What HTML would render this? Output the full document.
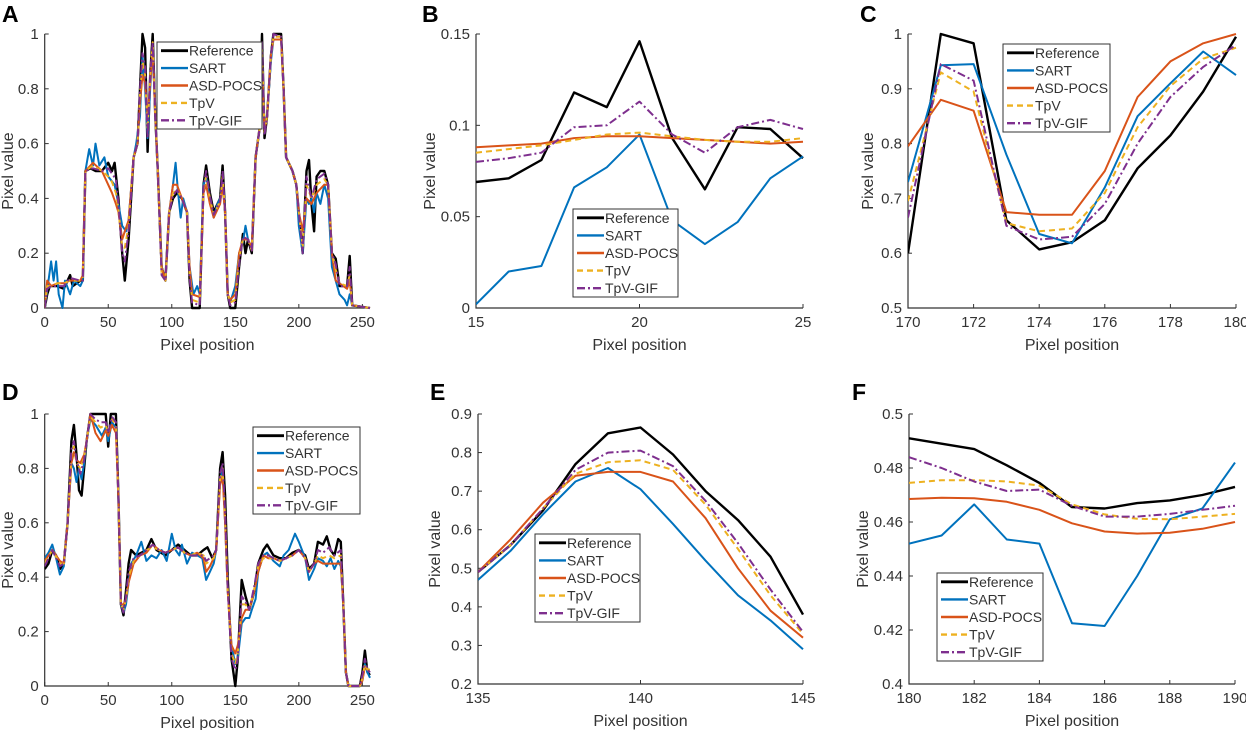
<!DOCTYPE html>
<html><head><meta charset="utf-8"><style>
html,body{margin:0;padding:0;background:#fff;}
svg{display:block;font-family:"Liberation Sans",Arial,sans-serif;}
</style></head><body>
<svg id="fig" width="1246" height="730" viewBox="0 0 1246 730" xmlns="http://www.w3.org/2000/svg"></svg>
<script>
const seriesNames = ["Reference","SART","ASD-POCS","TpV","TpV-GIF"];
// Panel A
const refA = [[0,0],[2,.05],[4,.08],[10,.08],[15,.07],[20,.12],[22,.08],[28,.1],[30,.1],[32,.5],[36,.51],[40,.5],[45,.5],[50,.53],[53,.5],[55,.53],[58,.4],[61,.2],[63,.1],[66,.25],[70,.55],[73,.6],[75,.8],[77,1],[79,.95],[81,.57],[83,.85],[85,1],[87,.7],[89,.5],[92,.15],[95,.1],[98,.35],[101,.4],[104,.42],[108,.4],[112,.35],[114,.1],[116,0],[122,0],[125,.45],[127,.52],[130,.42],[133,.35],[136,.38],[138,.4],[140,.52],[142,.35],[144,.05],[146,0],[150,0],[153,.15],[156,.27],[158,.2],[160,.25],[163,.2],[166,.55],[169,.65],[171,1],[173,.62],[175,.7],[178,.92],[180,1],[186,1],[188,.8],[190,.55],[195,.5],[198,.45],[200,.35],[203,.2],[206,.5],[208,.54],[210,.38],[212,.28],[214,.48],[217,.5],[220,.5],[223,.45],[226,.2],[229,.18],[232,.08],[236,.08],[238,.08],[240,.19],[242,.01],[256,0]];
const sartA = [[0,0],[3,.1],[5,.17],[7,.1],[9,.17],[11,.05],[14,0],[16,.1],[20,.05],[23,.1],[28,.08],[30,.1],[32,.5],[35,.58],[38,.52],[40,.6],[43,.52],[47,.55],[50,.48],[55,.45],[58,.38],[61,.3],[64,.28],[66,.32],[70,.55],[72,.6],[75,.7],[77,.92],[79,.8],[81,.62],[83,.8],[85,.95],[87,.7],[89,.5],[92,.15],[95,.1],[98,.35],[101,.45],[103,.53],[105,.42],[107,.33],[109,.4],[112,.35],[114,.15],[117,.05],[120,.08],[122,.05],[125,.45],[127,.48],[130,.4],[133,.33],[136,.38],[138,.4],[140,.45],[142,.35],[144,.05],[146,.02],[150,.08],[153,.2],[156,.24],[158,.3],[160,.25],[163,.22],[166,.55],[169,.65],[171,.95],[173,.65],[175,.7],[178,.9],[180,.98],[186,.98],[188,.8],[190,.55],[195,.5],[198,.45],[200,.3],[203,.2],[206,.4],[208,.38],[210,.4],[212,.35],[214,.42],[217,.38],[220,.45],[223,.4],[226,.15],[229,.1],[232,.05],[236,.03],[238,.01],[240,.05],[242,.01],[256,0]];
const asdA = [[0,0],[2,.1],[5,.08],[10,.09],[15,.09],[20,.1],[28,.1],[30,.12],[32,.5],[38,.53],[45,.5],[50,.45],[53,.42],[56,.38],[58,.35],[61,.25],[63,.28],[66,.32],[70,.55],[73,.6],[75,.75],[77,.85],[79,.82],[81,.7],[83,.82],[85,.95],[87,.7],[89,.5],[92,.15],[95,.1],[98,.35],[101,.45],[104,.45],[108,.4],[112,.35],[114,.15],[116,.05],[122,.04],[125,.42],[127,.45],[130,.38],[133,.33],[136,.36],[138,.38],[140,.45],[142,.35],[144,.05],[146,.03],[150,.05],[153,.2],[156,.25],[160,.25],[163,.22],[166,.55],[169,.65],[171,.9],[173,.65],[175,.7],[178,.92],[180,.98],[186,.98],[188,.8],[190,.55],[195,.5],[198,.45],[200,.35],[203,.28],[206,.4],[210,.38],[214,.42],[220,.45],[223,.45],[226,.2],[229,.1],[232,.09],[238,.07],[240,.1],[242,.01],[256,0]];
const tpvA = [[0,0],[2,.08],[5,.08],[10,.09],[15,.09],[20,.1],[28,.1],[30,.11],[32,.5],[38,.52],[45,.5],[50,.48],[53,.46],[56,.42],[58,.36],[61,.22],[63,.22],[66,.3],[70,.55],[73,.6],[75,.78],[77,.9],[79,.85],[81,.65],[83,.85],[85,.97],[87,.7],[89,.5],[92,.12],[95,.1],[98,.35],[101,.42],[104,.43],[108,.4],[112,.35],[114,.12],[116,.03],[122,.02],[125,.43],[127,.48],[130,.4],[133,.34],[136,.37],[138,.39],[140,.48],[142,.35],[144,.05],[146,.02],[150,.03],[153,.18],[156,.25],[160,.25],[163,.21],[166,.55],[169,.65],[171,.95],[173,.64],[175,.7],[178,.92],[180,.99],[186,.99],[188,.8],[190,.55],[195,.5],[198,.45],[200,.35],[203,.22],[206,.45],[210,.4],[214,.45],[220,.47],[223,.45],[226,.2],[229,.14],[232,.09],[238,.08],[240,.12],[242,.01],[256,0]];
const gifA = [[0,0],[2,.07],[5,.08],[10,.08],[15,.08],[20,.11],[28,.1],[30,.1],[32,.5],[38,.51],[45,.5],[50,.51],[53,.49],[56,.47],[58,.38],[61,.2],[63,.17],[66,.28],[70,.55],[73,.6],[75,.8],[77,.93],[79,.88],[81,.62],[83,.85],[85,.97],[87,.7],[89,.5],[92,.12],[95,.1],[98,.35],[101,.41],[104,.43],[108,.4],[112,.35],[114,.11],[116,.02],[122,.01],[125,.44],[127,.5],[130,.41],[133,.34],[136,.37],[138,.39],[140,.5],[142,.35],[144,.05],[146,.01],[150,.02],[153,.16],[156,.26],[160,.25],[163,.21],[166,.55],[169,.65],[171,.97],[173,.63],[175,.7],[178,.92],[180,1],[186,.99],[188,.8],[190,.55],[195,.5],[198,.45],[200,.35],[203,.2],[206,.48],[210,.4],[214,.47],[220,.49],[223,.45],[226,.2],[229,.16],[232,.08],[238,.08],[240,.15],[242,.01],[256,0]];
// Panel B
const xB = [15,16,17,18,19,20,21,22,23,24,25];
const refB = [.069,.071,.081,.118,.110,.146,.093,.065,.099,.098,.082];
const sartB = [.002,.020,.023,.066,.077,.095,.048,.035,.047,.071,.083];
const asdB = [.088,.089,.090,.093,.094,.094,.093,.092,.091,.090,.091];
const tpvB = [.085,.087,.089,.092,.095,.096,.094,.092,.091,.091,.093];
const gifB = [.080,.082,.085,.099,.100,.113,.095,.085,.099,.103,.098];
// Panel C
const xC = [170,171,172,173,174,175,176,177,178,179,180];
const refC = [.60,1.0,.983,.66,.607,.62,.66,.755,.815,.895,.995];
const sartC = [.73,.943,.945,.78,.635,.618,.72,.85,.91,.968,.925];
const asdC = [.795,.88,.86,.675,.67,.67,.75,.885,.95,.983,1.0];
const tpvC = [.695,.93,.895,.655,.64,.645,.71,.83,.905,.955,.975];
const gifC = [.665,.945,.915,.65,.625,.63,.69,.80,.885,.94,.98];
// Panel D
const refD = [[0,.43],[3,.45],[6,.5],[9,.48],[12,.43],[15,.45],[18,.6],[21,.9],[23,.96],[25,.85],[27,.72],[29,.7],[31,.8],[33,.9],[36,1],[48,1],[50,.88],[52,1],[56,1],[58,.7],[60,.3],[62,.26],[64,.35],[66,.45],[68,.5],[72,.48],[80,.5],[84,.54],[88,.5],[95,.48],[100,.5],[105,.52],[110,.5],[115,.48],[120,.48],[125,.5],[128,.51],[132,.47],[135,.5],[138,.8],[140,.86],[142,.7],[144,.4],[147,.1],[150,0],[152,.1],[155,.39],[158,.33],[161,.28],[165,.35],[168,.45],[172,.5],[175,.52],[180,.48],[185,.47],[190,.47],[195,.49],[200,.5],[205,.48],[208,.43],[212,.45],[215,.53],[219,.52],[222,.55],[225,.5],[228,.48],[231,.54],[233,.53],[235,.3],[237,.05],[239,0],[248,0],[250,.05],[252,.13],[254,.05],[256,.04]];
const sartD = [[0,.47],[3,.49],[6,.52],[9,.47],[12,.41],[15,.44],[18,.6],[21,.82],[23,.8],[25,.75],[27,.8],[29,.76],[31,.82],[33,.9],[36,.98],[40,.96],[45,.92],[48,.95],[50,.9],[53,.97],[56,.95],[58,.7],[60,.3],[62,.27],[64,.3],[66,.38],[68,.45],[72,.48],[76,.53],[80,.46],[84,.48],[88,.47],[92,.5],[96,.46],[100,.56],[103,.5],[106,.48],[108,.52],[112,.45],[116,.49],[120,.48],[124,.47],[127,.39],[130,.42],[133,.45],[135,.5],[138,.75],[140,.8],[142,.6],[144,.35],[147,.15],[150,.08],[152,.1],[155,.23],[158,.25],[161,.25],[163,.28],[166,.32],[168,.42],[172,.48],[175,.49],[180,.46],[185,.44],[188,.48],[192,.5],[197,.56],[200,.53],[205,.47],[208,.39],[212,.43],[215,.47],[219,.46],[222,.44],[225,.47],[228,.43],[231,.46],[233,.44],[235,.3],[237,.05],[239,0],[248,0],[250,.02],[252,.08],[254,.05],[256,.03]];
const asdD = [[0,.46],[6,.5],[12,.46],[15,.45],[18,.6],[21,.82],[23,.86],[25,.83],[28,.82],[31,.85],[33,.9],[36,1],[40,.93],[44,.9],[48,.94],[50,.92],[53,.96],[56,.93],[58,.7],[60,.3],[62,.3],[64,.32],[66,.38],[70,.45],[75,.48],[80,.49],[85,.52],[90,.5],[95,.49],[100,.5],[105,.51],[110,.49],[115,.48],[120,.49],[125,.47],[127,.42],[130,.44],[133,.47],[135,.5],[138,.74],[140,.77],[142,.6],[144,.35],[147,.15],[150,.12],[152,.15],[155,.25],[158,.28],[161,.28],[165,.35],[168,.42],[172,.48],[176,.47],[180,.47],[185,.46],[190,.47],[195,.48],[200,.5],[205,.47],[208,.42],[212,.45],[215,.46],[219,.45],[224,.45],[228,.45],[233,.45],[235,.3],[237,.05],[239,0],[248,0],[250,.02],[252,.07],[254,.06],[256,.06]];
const tpvD = [[0,.45],[6,.5],[12,.45],[15,.45],[18,.6],[21,.85],[23,.88],[25,.82],[28,.8],[31,.84],[33,.9],[36,.99],[40,.97],[44,.95],[48,.96],[50,.93],[53,.98],[56,.96],[58,.7],[60,.3],[62,.28],[64,.32],[66,.4],[70,.46],[75,.48],[80,.5],[85,.51],[90,.5],[95,.49],[100,.5],[105,.51],[110,.49],[115,.48],[120,.49],[125,.48],[127,.45],[130,.46],[133,.47],[135,.5],[138,.76],[140,.8],[142,.62],[144,.35],[147,.12],[150,.08],[152,.12],[155,.3],[158,.3],[161,.28],[165,.36],[168,.44],[172,.47],[176,.47],[180,.47],[185,.46],[190,.47],[195,.48],[200,.5],[205,.47],[208,.42],[212,.45],[215,.48],[219,.47],[224,.48],[228,.47],[233,.48],[235,.3],[237,.05],[239,0],[248,0],[250,.03],[252,.08],[254,.06],[256,.06]];
const gifD = [[0,.44],[6,.5],[12,.44],[15,.45],[18,.6],[21,.87],[23,.9],[25,.83],[28,.78],[31,.83],[33,.9],[36,1],[40,.98],[44,.97],[48,.97],[50,.93],[53,.99],[56,.97],[58,.7],[60,.3],[62,.27],[64,.33],[66,.42],[70,.47],[75,.48],[80,.5],[85,.52],[90,.5],[95,.49],[100,.5],[105,.51],[110,.49],[115,.48],[120,.48],[125,.48],[127,.46],[130,.47],[133,.48],[135,.5],[138,.78],[140,.82],[142,.64],[144,.36],[147,.1],[150,.06],[152,.1],[155,.33],[158,.31],[161,.28],[165,.37],[168,.45],[172,.48],[176,.48],[180,.47],[185,.46],[190,.47],[195,.48],[200,.5],[205,.47],[208,.42],[212,.45],[215,.5],[219,.49],[224,.51],[228,.48],[233,.5],[235,.3],[237,.05],[239,0],[248,0],[250,.04],[252,.1],[254,.06],[256,.05]];
// Panel E
const xE = [135,136,137,138,139,140,141,142,143,144,145];
const refE = [.49,.56,.65,.77,.85,.865,.795,.70,.625,.53,.38];
const sartE = [.47,.545,.64,.725,.76,.705,.615,.52,.43,.365,.29];
const asdE = [.49,.575,.67,.74,.75,.75,.725,.63,.50,.39,.32];
const tpvE = [.49,.56,.655,.745,.775,.78,.755,.665,.55,.43,.33];
const gifE = [.49,.56,.655,.755,.80,.805,.765,.675,.565,.445,.335];
// Panel F
const xF = [180,181,182,183,184,185,186,187,188,189,190];
const refF = [.491,.489,.487,.481,.4745,.4655,.465,.467,.468,.470,.473];
const sartF = [.452,.455,.4665,.4535,.452,.4225,.4215,.440,.461,.465,.482];
const asdF = [.4685,.469,.4688,.4675,.4645,.4595,.4565,.4557,.456,.4575,.460];
const tpvF = [.4745,.4755,.4755,.475,.4735,.4665,.4628,.4612,.461,.462,.463];
const gifF = [.484,.480,.475,.4715,.472,.466,.462,.462,.463,.4645,.466];
// tick labels
const xTicksA = [0,50,100,150,200,250], yTicksA = [0,0.2,0.4,0.6,0.8,1];
const xTicksB = [15,20,25], yTicksB = [0,0.05,0.1,0.15];
const xTicksC = [170,172,174,176,178,180], yTicksC = [0.5,0.6,0.7,0.8,0.9,1];
const xTicksE = [135,140,145], yTicksE = [0.2,0.3,0.4,0.5,0.6,0.7,0.8,0.9];
const xTicksF = [180,182,184,186,188,190], yTicksF = [0.4,0.42,0.44,0.46,0.48,0.5];

const NS="http://www.w3.org/2000/svg";
const svg=document.getElementById('fig');
const styles=[
 {c:"#000000",w:2.4,d:null},
 {c:"#0072BD",w:2,d:null},
 {c:"#D95319",w:2,d:null},
 {c:"#EDB120",w:2,d:"6,4"},
 {c:"#7E2F8E",w:2,d:"8,3,2,3"}];
function mk(tag,attrs,parent){const e=document.createElementNS(NS,tag);for(const k in attrs)e.setAttribute(k,attrs[k]);(parent||svg).appendChild(e);return e;}
function fmt(v){return String(+v.toFixed(3));}
function panel(p){
 const g=mk('g',{});
 
 
 const sx=v=>p.x0+(v-p.xmin)/(p.xmax-p.xmin)*(p.x1-p.x0);
 const sy=v=>p.y0+(v-p.ymin)/(p.ymax-p.ymin)*(p.y1-p.y0);
 const t=mk('text',{x:p.lx,y:p.ly,'font-size':23,'font-weight':'bold',fill:'#000'},g);t.textContent=p.id;
 
 const ax=mk('path',{d:`M${p.x0},${sy(p.ymax)}V${p.y0}H${sx(p.xmax)}`,stroke:'#333',fill:'none','stroke-width':1.2},g);
 
 p.xt.forEach(v=>{const X=sx(v);mk('line',{x1:X,x2:X,y1:p.y0,y2:p.y0-4,stroke:'#333'},g);
  const l=mk('text',{x:X,y:p.y0+19,'font-size':15,'text-anchor':'middle',fill:'#333'},g);l.textContent=fmt(v);
  });
 p.yt.forEach(v=>{const Y=sy(v);mk('line',{x1:p.x0,x2:p.x0+4,y1:Y,y2:Y,stroke:'#333'},g);
  const l=mk('text',{x:p.x0-6,y:Y+5,'font-size':15,'text-anchor':'end',fill:'#333'},g);l.textContent=fmt(v);
  });
 const xl=mk('text',{x:(p.x0+sx(p.xmax))/2,y:p.y0+42,'font-size':16,'text-anchor':'middle',fill:'#333'},g);xl.textContent='Pixel position';
 
 const yc=(p.y0+sy(p.ymax))/2;
 const yl=mk('text',{x:p.ylx,y:yc,'font-size':16,'text-anchor':'middle',fill:'#333',transform:`rotate(-90 ${p.ylx} ${yc})`},g);yl.textContent='Pixel value';
 
 const cp='clip'+p.id;
 const cl=mk('clipPath',{id:cp},g);mk('rect',{x:p.x0,y:sy(p.ymax)-2,width:sx(p.xmax)-p.x0+3,height:p.y0-sy(p.ymax)+4},cl);
 p.series.forEach((s,i)=>{
  const pts=s.map(q=>sx(q[0]).toFixed(1)+','+sy(q[1]).toFixed(1)).join(' ');
  const a={points:pts,fill:'none',stroke:styles[i].c,'stroke-width':styles[i].w,'stroke-linejoin':'round','clip-path':`url(#${cp})`};
  if(styles[i].d)a['stroke-dasharray']=styles[i].d;
  const pl=mk('polyline',a,g);
  
  
 });
 const L=p.leg;
 const lg=mk('g',{},g);
 
 mk('rect',{x:L[0],y:L[1],width:L[2],height:L[3],fill:'#fff',stroke:'#333','stroke-width':1},lg);
 const step=L[3]/5;
 seriesNames.forEach((n,i)=>{const Y=L[1]+step*(i+0.5);
  const e=mk('g',{},lg);
  
  const a={x1:L[0]+4,x2:L[0]+31,y1:Y,y2:Y,stroke:styles[i].c,'stroke-width':styles[i].w+0.4};
  if(styles[i].d)a['stroke-dasharray']=styles[i].d;
  mk('line',a,e);
  const tx=mk('text',{x:L[0]+32,y:Y+5,'font-size':14,fill:'#333'},e);tx.textContent=n;});
}
const pairs=(xs,ys)=>xs.map((x,i)=>[x,ys[i]]);
panel({id:'A',lx:2,ly:22,x0:44.7,x1:370,xmin:0,xmax:256,y0:308,y1:34,ymin:0,ymax:1,xt:xTicksA,yt:yTicksA,ylx:13,leg:[157,42,105,87],series:[refA,sartA,asdA,tpvA,gifA]});
panel({id:'B',lx:422,ly:22,x0:476,x1:803,xmin:15,xmax:25,y0:308,y1:34,ymin:0,ymax:0.15,xt:xTicksB,yt:yTicksB,ylx:435,leg:[573,209,105,88],series:[pairs(xB,refB),pairs(xB,sartB),pairs(xB,asdB),pairs(xB,tpvB),pairs(xB,gifB)]});
panel({id:'C',lx:860,ly:22,x0:908,x1:1236,xmin:170,xmax:180,y0:308,y1:34,ymin:0.5,ymax:1,xt:xTicksC,yt:yTicksC,ylx:873,leg:[1003,44,107,88],series:[pairs(xC,refC),pairs(xC,sartC),pairs(xC,asdC),pairs(xC,tpvC),pairs(xC,gifC)]});
panel({id:'D',lx:2,ly:400,x0:44.7,x1:370,xmin:0,xmax:256,y0:686,y1:414,ymin:0,ymax:1,xt:xTicksA,yt:yTicksA,ylx:13,leg:[253,427,107,87],series:[refD,sartD,asdD,tpvD,gifD]});
panel({id:'E',lx:430,ly:400,x0:478,x1:803,xmin:135,xmax:145,y0:684,y1:414,ymin:0.2,ymax:0.9,xt:xTicksE,yt:yTicksE,ylx:440,leg:[535,534,105,88],series:[pairs(xE,refE),pairs(xE,sartE),pairs(xE,asdE),pairs(xE,tpvE),pairs(xE,gifE)]});
panel({id:'F',lx:852,ly:400,x0:909,x1:1235,xmin:180,xmax:190,y0:684,y1:414,ymin:0.4,ymax:0.5,xt:xTicksF,yt:yTicksF,ylx:868,leg:[937,573,106,88],series:[pairs(xF,refF),pairs(xF,sartF),pairs(xF,asdF),pairs(xF,tpvF),pairs(xF,gifF)]});
</script>
</body></html>
